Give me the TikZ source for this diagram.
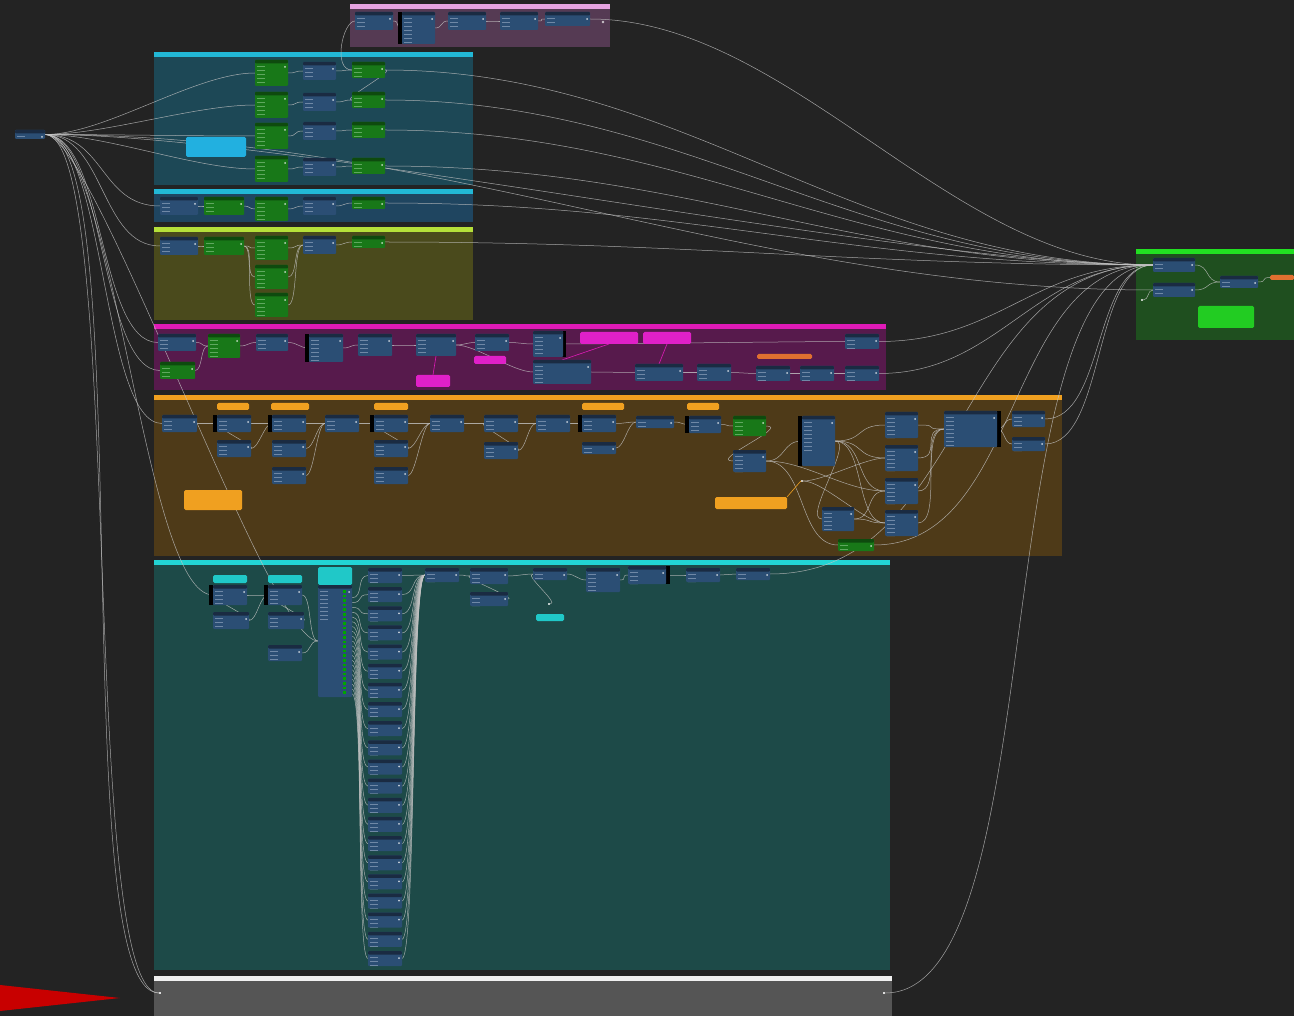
\documentclass[tikz,border=0pt]{standalone}
\usetikzlibrary{calc}
\definecolor{bgc}{HTML}{232323}
\definecolor{nblue}{HTML}{2B4E74}
\definecolor{nhdr}{HTML}{1A2B42}
\definecolor{ngreen}{HTML}{187818}
\definecolor{ghdr}{HTML}{0E4A0E}
\definecolor{rowc}{HTML}{6F88A6}
\definecolor{growc}{HTML}{5FA85F}
\definecolor{wirec}{HTML}{C4C4C4}
\definecolor{pinkF}{HTML}{553A53}\definecolor{pinkH}{HTML}{E5A3E0}
\definecolor{cyanF}{HTML}{1D4856}\definecolor{cyanH}{HTML}{22B8D6}
\definecolor{cyan2F}{HTML}{1F4560}
\definecolor{yelF}{HTML}{4A4A1C}\definecolor{yelH}{HTML}{B5E03A}
\definecolor{magF}{HTML}{571A4C}\definecolor{magH}{HTML}{E01AB8}
\definecolor{oraF}{HTML}{4E3A18}\definecolor{oraH}{HTML}{F0A020}
\definecolor{tealF}{HTML}{1D4A48}\definecolor{tealH}{HTML}{22D4D4}
\definecolor{grayF}{HTML}{555555}\definecolor{grayH}{HTML}{F0F0F0}
\definecolor{grnF}{HTML}{1F4F1F}\definecolor{grnH}{HTML}{22E022}
\definecolor{noteC}{HTML}{22B0E0}\definecolor{noteP}{HTML}{E020C8}
\definecolor{noteO}{HTML}{F0A020}\definecolor{noteG}{HTML}{22CC22}
\definecolor{noteT}{HTML}{20C8C8}\definecolor{noteR}{HTML}{E07030}
\definecolor{redC}{HTML}{C80000}
\pgfdeclarelayer{grp}\pgfdeclarelayer{wir}
\pgfsetlayers{grp,wir,main}
\tikzset{
  nodebase/.style={anchor=north west, inner sep=0pt, outer sep=0pt, rounded corners=1pt},
  bn/.style={nodebase, fill=nblue, path picture={
     \fill[nhdr] (path picture bounding box.north west) rectangle ([yshift=-3.5pt]path picture bounding box.north east);
     \foreach \k in {1,...,8} {\draw[rowc,line width=0.4pt] ([xshift=2pt,yshift={-2.5pt-\k*4pt}]path picture bounding box.north west) -- ++(8pt,0);}
     \fill[white!75!nblue] ([xshift=-3pt,yshift=-7pt]path picture bounding box.north east) circle (1pt);}},
  gn/.style={nodebase, fill=ngreen, path picture={
     \fill[ghdr] (path picture bounding box.north west) rectangle ([yshift=-3.5pt]path picture bounding box.north east);
     \foreach \k in {1,...,8} {\draw[growc,line width=0.4pt] ([xshift=2pt,yshift={-2.5pt-\k*4pt}]path picture bounding box.north west) -- ++(8pt,0);}
     \fill[white!75!ngreen] ([xshift=-3pt,yshift=-7pt]path picture bounding box.north east) circle (1pt);}},
  notebox/.style={nodebase, rounded corners=1.5pt},
  wire/.style={draw=wirec, line width=0.5pt, opacity=0.8},
}
\newcommand\BN[5]{\node[bn,minimum width=#4pt,minimum height=#5pt] (#1) at (#2,#3) {};}
\newcommand\GN[5]{\node[gn,minimum width=#4pt,minimum height=#5pt] (#1) at (#2,#3) {};}
\newcommand\NT[6]{\node[notebox,fill=#6,minimum width=#4pt,minimum height=#5pt] (#1) at (#2,#3) {};}
\newcommand\GRP[6]{\fill[#5] (#1,#2) rectangle (#3,#4); \fill[#6] (#1,#2) rectangle (#3,#2+5);}
\newcommand\W[3][30]{\draw[wire] (#2.east) .. controls +(#1,0) and +(-#1,0) .. (#3.west);}
\begin{document}
\begin{tikzpicture}[x=1pt,y=-1pt]
\useasboundingbox (0,0) rectangle (1294,1016);
\begin{pgfonlayer}{grp}
\fill[bgc] (0,0) rectangle (1294,1016);
\GRP{350}{4}{610}{47}{pinkF}{pinkH}
\GRP{154}{52}{473}{185}{cyanF}{cyanH}
\GRP{154}{189}{473}{222}{cyan2F}{cyanH}
\GRP{154}{227}{473}{320}{yelF}{yelH}
\GRP{154}{324}{886}{390}{magF}{magH}
\GRP{154}{395}{1062}{556}{oraF}{oraH}
\GRP{154}{560}{890}{970}{tealF}{tealH}
\GRP{154}{976}{892}{1016}{grayF}{grayH}
\GRP{1136}{249}{1294}{340}{grnF}{grnH}
\fill[redC] (0,985) -- (120,998) -- (0,1011) -- cycle;
\end{pgfonlayer}
% input
\BN{inp}{15}{130}{30}{9}
% pink
\BN{p1}{355}{12}{38}{18}
\fill[black] (398,12) rectangle (402,44);
\BN{p2}{402}{12}{33}{32}
\BN{p3}{448}{12}{38}{18}
\BN{p4}{500}{12}{38}{18}
\BN{p5}{545}{12}{45}{14}
\node[fill=white!70!pinkF,circle,inner sep=1pt] (p6) at (603,22) {};
% cyan 1
\GN{ca1}{255}{60}{33}{26}\GN{ca2}{255}{92}{33}{26}\GN{ca3}{255}{123}{33}{26}\GN{ca4}{255}{156}{33}{26}
\BN{cb1}{303}{62}{33}{18}\BN{cb2}{303}{93}{33}{18}\BN{cb3}{303}{122}{33}{18}\BN{cb4}{303}{158}{33}{18}
\GN{cc1}{352}{62}{33}{16}\GN{cc2}{352}{92}{33}{16}\GN{cc3}{352}{122}{33}{16}\GN{cc4}{352}{158}{33}{16}
\NT{cn}{186}{137}{60}{20}{noteC}
% cyan 2
\BN{da}{160}{197}{38}{18}\GN{db}{204}{197}{40}{18}\GN{dc}{255}{197}{33}{24}\BN{dd}{303}{197}{33}{18}\GN{de}{352}{197}{33}{12}
% yellow
\BN{ya}{160}{237}{38}{18}\GN{yb}{204}{237}{40}{18}
\GN{yc1}{255}{236}{33}{24}\GN{yc2}{255}{265}{33}{24}\GN{yc3}{255}{293}{33}{24}
\BN{yd}{303}{236}{33}{18}\GN{ye}{352}{236}{33}{12}
% magenta
\BN{ma}{158}{334}{38}{17}\GN{mb}{160}{362}{35}{17}\GN{mc}{208}{334}{32}{24}
\BN{md}{256}{334}{32}{17}
\fill[black] (305,334) rectangle (309,362);
\BN{me}{309}{334}{34}{28}\BN{mf}{358}{334}{34}{22}\BN{mg}{416}{334}{40}{22}\BN{mh}{475}{334}{34}{17}
\fill[black] (562,331) rectangle (566,357);
\BN{mi}{533}{331}{30}{26}\BN{mj}{533}{360}{58}{24}
\NT{mn1}{580}{332}{58}{12}{noteP}\NT{mn2}{643}{332}{48}{12}{noteP}
\NT{mn3}{474}{356}{32}{8}{noteP}\NT{mn4}{416}{375}{34}{12}{noteP}
\BN{mk}{635}{364}{48}{17}\BN{ml}{697}{364}{34}{17}
\NT{mo}{757}{354}{55}{5}{noteR}
\BN{mm}{756}{366}{34}{15}\BN{mp}{800}{366}{34}{15}\BN{mq}{845}{366}{34}{15}\BN{mr}{845}{334}{34}{15}
% orange
\NT{on1n}{217}{403}{32}{7}{noteO}\NT{on2n}{271}{403}{38}{7}{noteO}\NT{on3n}{374}{403}{34}{7}{noteO}
\NT{on4n}{582}{403}{42}{7}{noteO}\NT{on5n}{687}{403}{32}{7}{noteO}
\NT{on6n}{184}{490}{58}{20}{noteO}\NT{on7n}{715}{497}{72}{12}{noteO}
\BN{oa}{162}{415}{35}{17}
\fill[black] (213,415) rectangle (217,432);
\BN{ob}{217}{415}{34}{17}\BN{ob2}{217}{440}{34}{17}
\fill[black] (268,415) rectangle (272,432);
\BN{oc}{272}{415}{34}{17}\BN{oc2}{272}{440}{34}{17}\BN{oc3}{272}{467}{34}{17}
\BN{od}{325}{415}{34}{17}
\fill[black] (370,415) rectangle (374,432);
\BN{oe}{374}{415}{34}{17}\BN{oe2}{374}{440}{34}{17}\BN{oe3}{374}{467}{34}{17}
\BN{of}{430}{415}{34}{17}\BN{og}{484}{415}{34}{17}\BN{og2}{484}{442}{34}{17}
\BN{oh}{536}{415}{34}{17}
\fill[black] (578,415) rectangle (582,432);
\BN{oi}{582}{415}{34}{17}\BN{oi2}{582}{442}{34}{12}
\BN{oj}{636}{416}{38}{12}
\fill[black] (685,416) rectangle (689,433);
\BN{ok}{689}{416}{32}{17}
\GN{ol}{733}{416}{33}{20}\BN{ol2}{733}{450}{33}{22}
\fill[black] (798,416) rectangle (802,466);
\BN{om}{802}{416}{33}{50}
\BN{oq1}{885}{412}{33}{26}\BN{oq2}{885}{445}{33}{26}\BN{oq3}{885}{478}{33}{26}\BN{oq4}{885}{510}{33}{26}
\fill[black] (997,411) rectangle (1001,447);
\BN{oo}{944}{411}{53}{36}
\BN{op}{1012}{411}{33}{16}\BN{op2}{1012}{437}{33}{14}
\BN{os}{822}{507}{32}{24}\GN{ot}{838}{539}{36}{12}
\node[fill=white!70!oraF,inner sep=1pt] (orr) at (802,481) {};
% teal
\NT{tn1}{213}{575}{34}{8}{noteT}\NT{tn2}{268}{575}{34}{8}{noteT}\NT{tn3}{318}{567}{34}{18}{noteT}
\NT{tn4}{536}{614}{28}{7}{noteT}
\fill[black] (209,585) rectangle (213,605);
\BN{ta}{213}{585}{34}{20}\BN{ta2}{213}{612}{36}{17}
\fill[black] (264,585) rectangle (268,605);
\BN{tb}{268}{585}{34}{20}\BN{tb2}{268}{612}{36}{17}\BN{tb3}{268}{645}{34}{16}
\BN{tc}{318}{585}{34}{112}
\foreach \k in {0,...,22} {\fill[green!65!black] (343,{590+\k*4.6}) rectangle +(3,2.5);}
\foreach \i in {1,...,21} {\pgfmathsetmacro\yy{568+(\i-1)*19.15}\BN{col\i}{368}{\yy}{34}{15}}
\BN{td}{425}{568}{34}{14}\BN{te}{470}{568}{38}{16}\BN{te2}{470}{592}{38}{14}
\BN{tf}{533}{568}{34}{12}\BN{tg}{586}{568}{34}{24}
\fill[black] (666,566) rectangle (670,584);
\BN{th}{628}{566}{38}{18}\BN{ti}{686}{568}{34}{14}\BN{tj}{736}{568}{34}{12}
\node[fill=white!70!tealF,inner sep=1pt] (tk) at (549,604) {};
% gray
\node[fill=white!80!grayF,inner sep=1pt] (gl) at (160,993) {};
\node[fill=white!80!grayF,inner sep=1pt] (gr) at (884,993) {};
% right
\BN{ra}{1153}{258}{42}{14}\BN{rb}{1153}{283}{42}{14}\BN{rc}{1220}{276}{38}{12}
\NT{ro}{1270}{275}{24}{5}{noteR}
\NT{rn}{1198}{306}{56}{22}{noteG}
\node[fill=white!70!grnF,inner sep=1pt] (rs) at (1142,300) {};
\begin{pgfonlayer}{wir}
% input fan
\W[60]{inp}{ca1}\W[60]{inp}{ca2}\W[60]{inp}{ca3}\W[60]{inp}{ca4}
\W[60]{inp}{da}\W[60]{inp}{ya}\W[60]{inp}{ma}\W[60]{inp}{mb}\W[60]{inp}{oa}
\W[70]{inp}{ta}\W[80]{inp}{gl}\W[95]{inp}{gl}\W[50]{inp}{tc}
\W[250]{inp}{ra}\W[400]{inp}{rb}
% pink
\draw[wire] (p1.west) .. controls +(-12,0) and +(-20,0) .. (cc1.west);
\W[8]{p1}{p2}\W[8]{p2}{p3}\W[8]{p3}{p4}\W[8]{p4}{p5}\W[200]{p5}{ra}
% cyan 1
\foreach \i in {1,...,4}{\W[10]{ca\i}{cb\i}\W[10]{cb\i}{cc\i}\W[300]{cc\i}{ra}}
\W[12]{cc1}{cc2}
% cyan 2
\W[6]{da}{db}\W[6]{db}{dc}\W[8]{dc}{dd}\W[8]{dd}{de}\W[300]{de}{ra}
% yellow
\W[6]{ya}{yb}\W[10]{yb}{yc1}\W[10]{yb}{yc2}\W[10]{yb}{yc3}
\W[10]{yc1}{yd}\W[10]{yc2}{yd}\W[10]{yc3}{yd}\W[8]{yd}{ye}\W[300]{ye}{ra}
% magenta
\W[8]{ma}{mc}\W[8]{mb}{mc}\W[8]{mc}{md}\W[10]{md}{me}\W[8]{me}{mf}\W[10]{mf}{mg}\W[8]{mg}{mh}
\W[10]{mh}{mi}\W[20]{mg}{mj}\W[25]{mj}{mk}\W[8]{mk}{ml}\W[8]{ml}{mm}\W[6]{mm}{mp}\W[6]{mp}{mq}
\W[40]{mi}{mr}\W[120]{mq}{ra}\W[120]{mr}{ra}
\draw[magH,line width=0.6pt] (mn1.south) -- (mj.north);
\draw[magH,line width=0.6pt] (mn2.south) -- (mk.north);
\draw[magH,line width=0.6pt] (mn4.north) -- (mg.south);
% orange
\W[8]{oa}{ob}\W[8]{ob2}{ob}\W[8]{ob}{oc}\W[8]{ob2}{oc}\W[8]{oc}{od}\W[8]{oc2}{od}\W[8]{oc3}{od}
\W[8]{od}{oe}\W[8]{oe}{of}\W[8]{oe2}{of}\W[8]{oe3}{of}\W[8]{oe2}{oe}\W[8]{of}{og}\W[8]{og}{oh}\W[8]{og2}{oh}
\W[8]{og2}{og}\W[8]{oh}{oi}\W[8]{oi}{oj}\W[8]{oi2}{oj}\W[8]{oj}{ok}\W[8]{ok}{ol}\W[25]{ol}{ol2}
\W[20]{ol2}{om}\foreach \j in {1,...,4}{\W[30]{om}{oq\j}\W[25]{oq\j}{oo}}
\W[40]{ol2}{oq3}\W[40]{ol2}{ot}\W[20]{orr}{oq2}\W[20]{orr}{oq4}\W[20]{om}{os}\W[20]{os}{oq4}\W[20]{os}{oq3}
\W[8]{oo}{op}\W[8]{oo}{op2}\W[60]{op}{ra}\W[60]{op2}{ra}\W[150]{ot}{ra}
\draw[oraH,line width=0.6pt] (on7n.north east) -- (orr.west);
% teal
\W[8]{ta2}{ta}\W[8]{ta}{tb}\W[8]{ta2}{tb}\W[8]{tb2}{tb}\W[10]{tb}{tc}\W[10]{tb3}{tc}
\foreach \i in {1,...,21}{
  \draw[wire] ([yshift={-8pt-\i*4.8pt}]tc.north east) .. controls +(12,0) and +(-12,0) .. (col\i.west);
  \W[14]{col\i}{td}}
\W[8]{td}{te}\W[10]{te2}{te}\W[8]{te}{tf}\W[10]{tk}{tf}\W[8]{tf}{tg}\W[8]{tg}{th}\W[8]{th}{ti}\W[8]{ti}{tj}
\W[200]{tj}{ra}
% gray
\W[170]{gr}{ra}
% right
\W[15]{ra}{rc}\W[15]{rb}{rc}\W[10]{rc}{ro}\W[6]{rs}{rb}
\end{pgfonlayer}
\end{tikzpicture}
\end{document}
